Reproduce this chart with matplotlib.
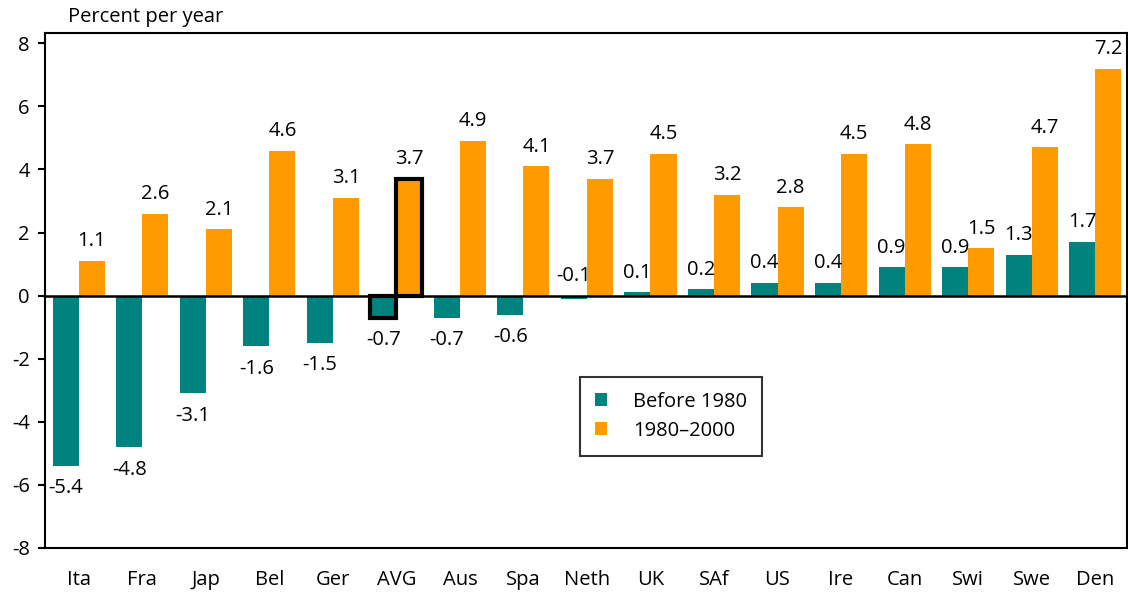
import matplotlib
matplotlib.use("Agg")
import matplotlib.pyplot as plt
import numpy as np

plt.rcParams["font.family"] = ["Open Sans", "DejaVu Sans"]
plt.rcParams["axes.unicode_minus"] = False

# data
countries = ["Ita", "Fra", "Jap", "Bel", "Ger", "AVG", "Aus", "Spa", "Neth",
             "UK", "SAf", "US", "Ire", "Can", "Swi", "Swe", "Den"]
before_1980 = [-5.4, -4.8, -3.1, -1.6, -1.5, -0.7, -0.7, -0.6, -0.1,
               0.1, 0.2, 0.4, 0.4, 0.9, 0.9, 1.3, 1.7]
after_1980 = [1.1, 2.6, 2.1, 4.6, 3.1, 3.7, 4.9, 4.1, 3.7,
              4.5, 3.2, 2.8, 4.5, 4.8, 1.5, 4.7, 7.2]
y_ticks = [-8, -6, -4, -2, 0, 2, 4, 6, 8]

teal = "#00827F"
orange = "#FF9A00"

fig = plt.figure(figsize=(11.28, 5.93), dpi=100)
ax = fig.add_axes([0.040, 0.076, 0.959, 0.868])

x = np.arange(len(countries))
w = 0.41

b1 = ax.bar(x - w / 2, before_1980, w, color=teal, label="Before 1980", zorder=2)
b2 = ax.bar(x + w / 2, after_1980, w, color=orange, label="1980\u20132000", zorder=2)

# outline the average bars
avg = countries.index("AVG")
for b in (b1[avg], b2[avg]):
    b.set_edgecolor("black")
    b.set_linewidth(3)
    b.set_zorder(3)

ax.axhline(0, color="black", lw=1.8, zorder=4)

fs = 14.5
for i in range(len(countries)):
    v = before_1980[i]
    if v < -0.3:
        ax.annotate(f"{v:.1f}", (x[i] - w / 2, v), xytext=(0, -9),
                    textcoords="offset points", ha="center", va="top", fontsize=fs)
    else:
        ax.annotate(f"{v:.1f}", (x[i] - w / 2, max(v, 0)), xytext=(0, 7),
                    textcoords="offset points", ha="center", va="bottom", fontsize=fs)
    v = after_1980[i]
    ax.annotate(f"{v:.1f}", (x[i] + w / 2, v), xytext=(0, 7),
                textcoords="offset points", ha="center", va="bottom", fontsize=fs)

ax.set_xlim(-0.53, len(countries) - 0.5)
ax.set_ylim(-8, 8.32)
ax.set_yticks(y_ticks)
ax.set_yticklabels([str(t) for t in y_ticks])
ax.set_xticks(x)
ax.set_xticklabels(countries)
ax.tick_params(axis="x", length=0, labelsize=fs, pad=16)
ax.tick_params(axis="y", length=5, width=1.5, labelsize=fs, pad=6)
for s in ax.spines.values():
    s.set_linewidth(1.5)

leg = ax.legend(loc="upper left", bbox_to_anchor=(0.494, 0.333), fontsize=fs,
                frameon=True, fancybox=False, handlelength=0.6, handleheight=0.6,
                borderpad=0.75, labelspacing=0.45, handletextpad=1.3,
                borderaxespad=0)
leg.get_frame().set_edgecolor("black")
leg.get_frame().set_linewidth(1.5)

fig.text(0.060, 0.972, "Percent per year", fontsize=fs, va="center", ha="left")

fig.savefig("out.png", dpi=100)
